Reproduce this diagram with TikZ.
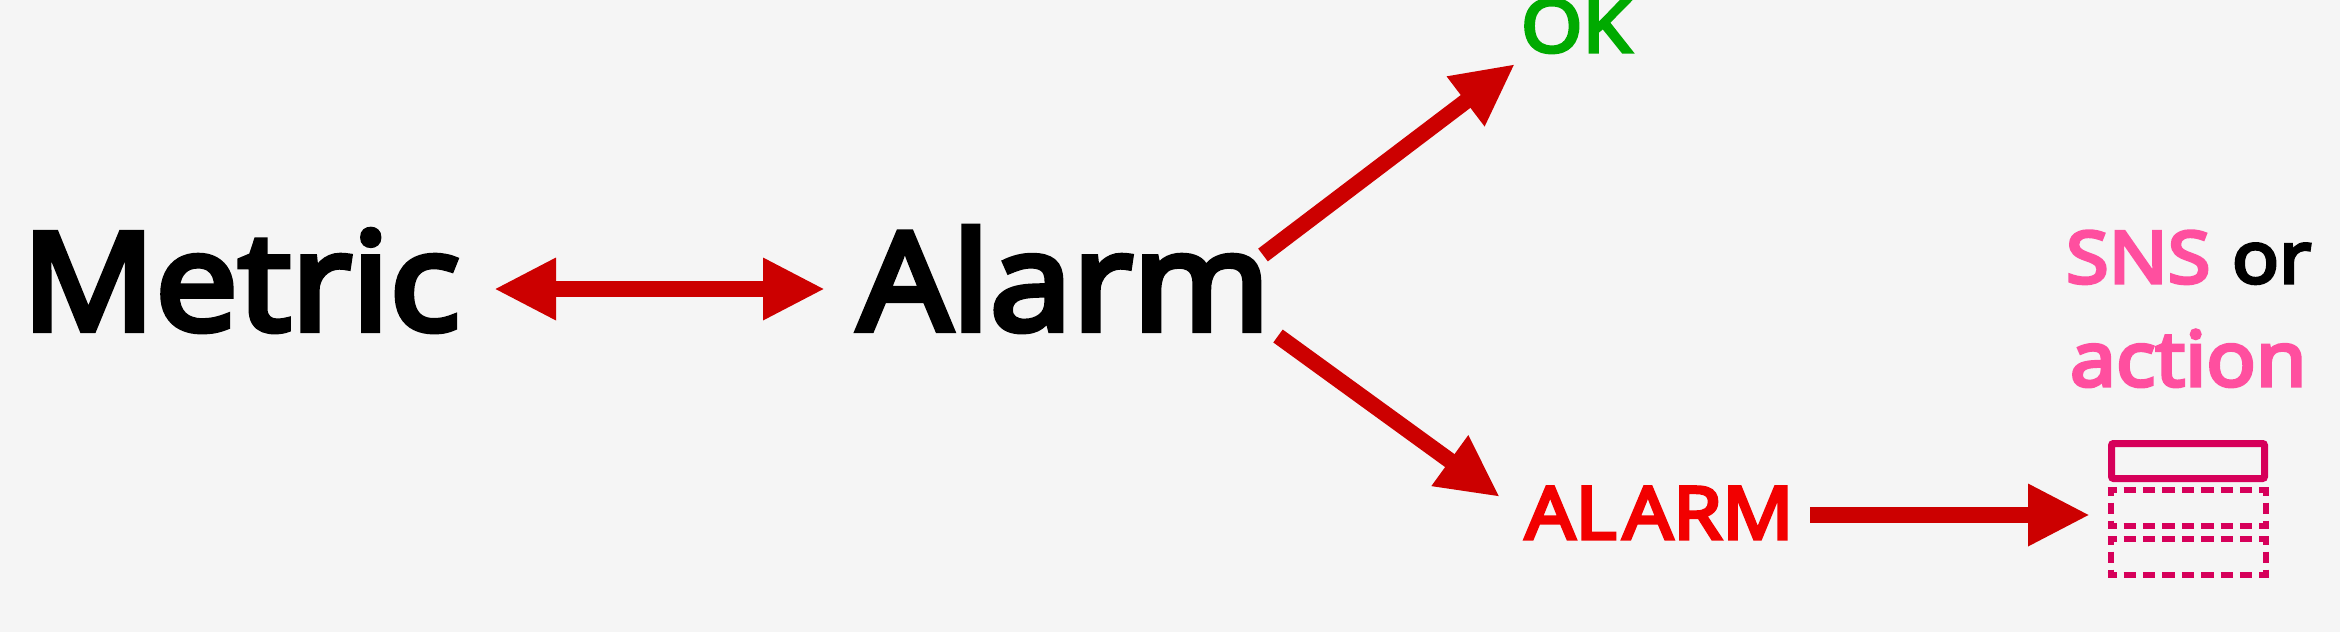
\documentclass[tikz,border=0pt]{standalone}
\usepackage{fontspec}
\setmainfont{Noto Sans}[FakeBold=4.5,FakeStretch=1.08]
\usetikzlibrary{arrows.meta}
\definecolor{bgc}{HTML}{F5F5F5}
\definecolor{arrowred}{HTML}{CC0000}
\definecolor{okgreen}{HTML}{00AA00}
\definecolor{alarmred}{HTML}{F20000}
\definecolor{snspink}{HTML}{FF4F9F}
\definecolor{iconpink}{HTML}{D6005A}
\tikzset{
  x=1pt,y=-1pt,
  headtip/.tip={Triangle[length=62pt,width=58pt]},
  lbl/.style={inner sep=0pt,outer sep=0pt,anchor=base west},
  bigt/.style={lbl,font=\fontsize{136}{136}\selectfont,text=black},
  smallt/.style={lbl,font=\fontsize{73}{73}\selectfont},
  midt/.style={lbl,font=\fontsize{72}{72}\selectfont},
  actt/.style={lbl,font=\fontsize{76}{76}\selectfont},
  conn/.style={draw=arrowred,line width=16pt,-headtip},
  connb/.style={draw=arrowred,line width=16pt,headtip-headtip},
  iconsolid/.style={draw=iconpink,line width=7pt,inner sep=0pt,outer sep=0pt,minimum width=153pt,minimum height=35pt,rounded corners=2pt},
  iconbox/.style={inner sep=0pt,outer sep=0pt,minimum width=155pt,minimum height=36pt},
  dashh/.style={draw=iconpink,line width=6pt,shorten <=-3pt,shorten >=-3pt,dash pattern=on 12.4pt off 6.975pt,dash phase=3.2pt},
  dashv/.style={draw=iconpink,line width=6pt,shorten <=-3pt,shorten >=-3pt,dash pattern=on 11pt off 7pt,dash phase=2.5pt},
}
\begin{document}
\begin{tikzpicture}
\useasboundingbox[fill=bgc] (0,0) rectangle (2340,632);
\node[bigt] (metric) at (22,330) {Metric};
\node[bigt] (alarm) at (858,330) {Alarm};
\node[smallt,text=okgreen] (ok) at (1521,52) {OK};
\node[smallt,text=alarmred] (state) at (1525,539) {AL\kern6pt ARM};
\node[midt,text=snspink] (sns) at (2066,283) {SNS};
\node[midt,text=black] (or) at (2232,283) {or};
\node[actt,text=snspink] (action) at (2070,386) {action};
\node[iconsolid] (top) at (2188,461) {};
\node[iconbox] (d1) at (2188,508) {};
\node[iconbox] (d2) at (2188,557) {};
\foreach \b in {d1,d2}{
  \draw[dashh] (\b.north west) -- (\b.north east);
  \draw[dashh] (\b.south west) -- (\b.south east);
  \draw[dashv] (\b.north west) -- (\b.south west);
  \draw[dashv] (\b.north east) -- (\b.south east);
}
\coordinate (a1) at (494,289);
\coordinate (a2) at (825,289);
\coordinate (b1) at (1263,255);
\coordinate (b2) at (1515,64);
\coordinate (c1) at (1278,336);
\coordinate (c2) at (1500,497);
\coordinate (d0) at (1810,515);
\coordinate (d3) at (2090,515);
\draw[connb] (a1) -- (a2);
\draw[conn] (b1) -- (b2);
\draw[conn] (c1) -- (c2);
\draw[conn] (d0) -- (d3);
\end{tikzpicture}
\end{document}
